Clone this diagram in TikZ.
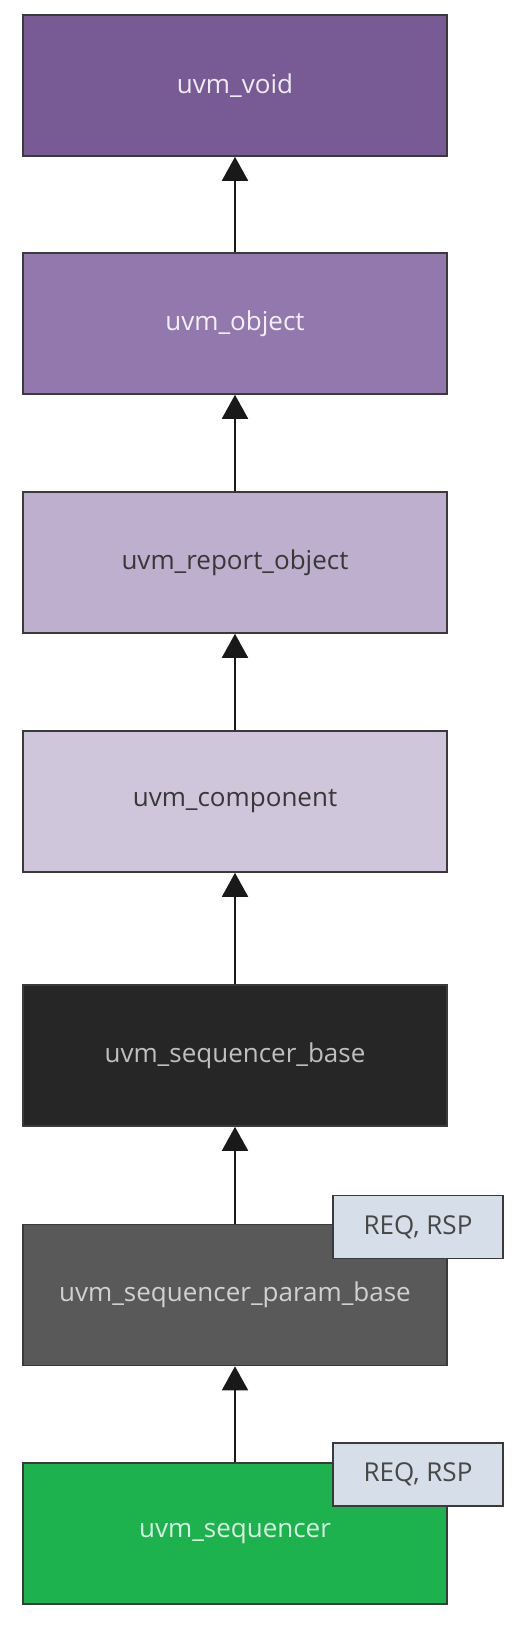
\documentclass[tikz,border=0pt]{standalone}
\usepackage{fontspec}
\setmainfont{Open Sans}
\usetikzlibrary{arrows.meta}
\definecolor{cvoid}{HTML}{785B94}
\definecolor{cobject}{HTML}{9278AD}
\definecolor{creport}{HTML}{BEAFCE}
\definecolor{ccomp}{HTML}{D0C6DC}
\definecolor{cseqbase}{HTML}{262626}
\definecolor{cparam}{HTML}{595959}
\definecolor{cseq}{HTML}{1EB24F}
\definecolor{creq}{HTML}{D6DEE9}
\definecolor{cborder}{HTML}{3A3A3A}
\begin{document}
\begin{tikzpicture}[x=1pt,y=-1pt,
  cls/.style={draw=cborder,line width=1.6pt,minimum width=424pt,minimum height=141pt,inner sep=0pt,
    font=\fontsize{26}{31}\selectfont},
  param/.style={draw=cborder,line width=1.6pt,fill=creq,minimum width=170pt,minimum height=63pt,inner sep=0pt,
    text=black!72,font=\fontsize{26}{31}\selectfont},
  inh/.style={line width=1.8pt,draw=black!90,-{Triangle[width=26pt,length=24pt]}}]
\useasboundingbox (0,0) rectangle (518,1626);
\node[cls,fill=cvoid,text=white!88!cvoid] (void) at (235,85.5) {uvm\_void};
\node[cls,fill=cobject,text=white!88!cobject] (object) at (235,323.5) {uvm\_object};
\node[cls,fill=creport,text=black!78] (report) at (235,562.5) {uvm\_report\_object};
\node[cls,fill=ccomp,text=black!78] (comp) at (235,801.5) {uvm\_component};
\node[cls,fill=cseqbase,text=black!25] (seqbase) at (235,1055.5) {uvm\_sequencer\_base};
\node[cls,fill=cparam,text=black!18] (parambase) at (235,1295) {uvm\_sequencer\_param\_base};
\node[cls,fill=cseq,text=white!82!cseq] (seq) at (235,1533.5) {uvm\_sequencer};
\node[param] (p1) at (418,1227) {REQ, RSP};
\node[param] (p2) at (418,1474.5) {REQ, RSP};
\draw[inh] (object.north) -- (void.south);
\draw[inh] (report.north) -- (object.south);
\draw[inh] (comp.north) -- (report.south);
\draw[inh] (seqbase.north) -- (comp.south);
\draw[inh] (parambase.north) -- (seqbase.south);
\draw[inh] (seq.north) -- (parambase.south);
\end{tikzpicture}
\end{document}
